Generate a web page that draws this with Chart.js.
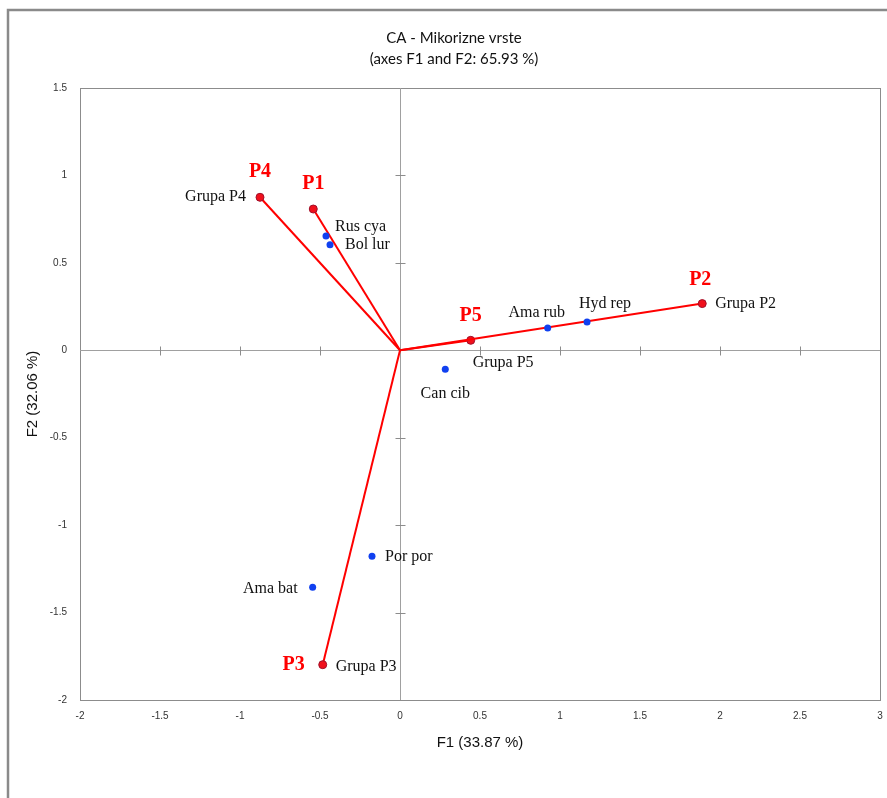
<!DOCTYPE html>
<html>
<head>
<meta charset="utf-8">
<script src="https://cdn.jsdelivr.net/npm/chart.js@4/dist/chart.umd.min.js"></script>
<style>
  html, body { margin: 0; padding: 0; background: #fff; overflow: hidden; }
  #wrap { position: relative; width: 887px; height: 798px; }
</style>
</head>
<body>
<div id="wrap"><canvas id="c" width="887" height="798"></canvas></div>
<script>
// Correspondence analysis: mycorrhizal species and site groups on F1 / F2
const groupNames  = ['P1', 'P2', 'P3', 'P4', 'P5'];
const groupLabels = ['', 'Grupa P2', 'Grupa P3', 'Grupa P4', 'Grupa P5'];
const groupF1     = [-0.542, 1.889, -0.483, -0.875, 0.442];
const groupF2     = [0.808, 0.267, -1.798, 0.875, 0.057];

const speciesNames = ['Rus cya', 'Bol lur', 'Ama rub', 'Hyd rep', 'Can cib', 'Por por', 'Ama bat'];
const speciesF1    = [-0.4625, -0.4375, 0.923, 1.169, 0.283, -0.175, -0.546];
const speciesF2    = [0.654, 0.604, 0.1275, 0.162, -0.109, -1.178, -1.355];

const xTicks = [-2, -1.5, -1, -0.5, 0, 0.5, 1, 1.5, 2, 2.5, 3];
const yTicks = [-2, -1.5, -1, -0.5, 0, 0.5, 1, 1.5];

const titleLines = ['CA - Mikorizne vrste', '(axes F1 and F2: 65.93 %)'];
const xTitle = 'F1 (33.87 %)';
const yTitle = 'F2 (32.06 %)';

// label placement (pixel offsets from the marker, text alignment)
const groupTagPlace = [
  { dx: 0, dy: -25, align: 'center' },
  { dx: -2, dy: -24, align: 'center' },
  { dx: -18, dy: 0, align: 'right' },
  { dx: 0, dy: -25, align: 'center' },
  { dx: 0, dy: -24, align: 'center' }
];
const groupLabelPlace = [
  null,
  { dx: 13, dy: 0, align: 'left' },
  { dx: 13, dy: 2, align: 'left' },
  { dx: -14, dy: 0, align: 'right' },
  { dx: 2, dy: 22, align: 'left' }
];
const speciesPlace = [
  { dx: 9, dy: -9, align: 'left' },
  { dx: 15, dy: 0, align: 'left' },
  { dx: -11, dy: -15, align: 'center' },
  { dx: 18, dy: -18, align: 'center' },
  { dx: 0, dy: 24, align: 'center' },
  { dx: 13, dy: 1, align: 'left' },
  { dx: -15, dy: 2, align: 'right' }
];

const RED = '#ff0000';
const BLUE = '#1040f0';
const AXIS_GRAY = '#8c8c8c';
const SANS = '"Liberation Sans", Arial, sans-serif';
const SERIF = '"Liberation Serif", "Times New Roman", serif';

const datasets = [];
datasets.push({
  label: 'species',
  data: speciesF1.map((x, i) => ({ x, y: speciesF2[i] })),
  pointRadius: 3.5,
  pointBackgroundColor: BLUE,
  pointBorderColor: BLUE,
  pointBorderWidth: 0,
  showLine: false
});
groupNames.forEach((g, i) => {
  datasets.push({
    label: g,
    data: [{ x: 0, y: 0 }, { x: groupF1[i], y: groupF2[i] }],
    showLine: true,
    borderColor: RED,
    borderWidth: 2,
    pointRadius: [0, 4],
    pointBackgroundColor: '#f0101c',
    pointBorderColor: '#a0102a',
    pointBorderWidth: 1
  });
});

const frameAndAxes = {
  id: 'frameAndAxes',
  beforeDraw(chart) {
    const ctx = chart.ctx;
    ctx.save();
    ctx.fillStyle = '#fff';
    ctx.fillRect(0, 0, chart.width, chart.height);
    ctx.strokeStyle = '#8a8a8a';
    ctx.lineWidth = 2.5;
    ctx.beginPath();
    ctx.moveTo(8, chart.height + 2);
    ctx.lineTo(8, 10);
    ctx.lineTo(chart.width + 2, 10);
    ctx.stroke();
    // chart title
    ctx.fillStyle = '#111';
    ctx.font = '15px Lato, "Liberation Sans", sans-serif';
    ctx.textAlign = 'center';
    ctx.textBaseline = 'middle';
    ctx.fillText(titleLines[0], 454, 38);
    ctx.fillText(titleLines[1], 454, 59);
    ctx.restore();
  },
  beforeDatasetsDraw(chart) {
    const { ctx, chartArea: a, scales: { x, y } } = chart;
    ctx.save();
    ctx.strokeStyle = AXIS_GRAY;
    ctx.lineWidth = 1;
    ctx.strokeRect(Math.round(a.left) + 0.5, Math.round(a.top) + 0.5,
                   Math.round(a.right - a.left), Math.round(a.bottom - a.top));
    const x0 = Math.round(x.getPixelForValue(0)) + 0.5;
    const y0 = Math.round(y.getPixelForValue(0)) + 0.5;
    ctx.strokeStyle = '#a0a0a0';
    ctx.beginPath();
    ctx.moveTo(x0, a.top); ctx.lineTo(x0, a.bottom);
    ctx.moveTo(a.left, y0); ctx.lineTo(a.right, y0);
    ctx.stroke();
    ctx.strokeStyle = AXIS_GRAY;
    ctx.beginPath();
    xTicks.forEach(v => {
      if (v === xTicks[0] || v === xTicks[xTicks.length - 1] || v === 0) return;
      const px = Math.round(x.getPixelForValue(v)) + 0.5;
      ctx.moveTo(px, y0 - 4); ctx.lineTo(px, y0 + 5);
    });
    yTicks.forEach(v => {
      if (v === yTicks[0] || v === yTicks[yTicks.length - 1] || v === 0) return;
      const py = Math.round(y.getPixelForValue(v)) + 0.5;
      ctx.moveTo(x0 - 5, py); ctx.lineTo(x0 + 5, py);
    });
    ctx.stroke();
    ctx.restore();
  },
  afterDatasetsDraw(chart) {
    const { ctx, scales: { x, y } } = chart;
    ctx.save();
    ctx.textBaseline = 'middle';
    // species names
    ctx.fillStyle = '#111';
    ctx.font = '16px ' + SERIF;
    speciesNames.forEach((n, i) => {
      const p = speciesPlace[i];
      ctx.textAlign = p.align;
      ctx.fillText(n, x.getPixelForValue(speciesF1[i]) + p.dx, y.getPixelForValue(speciesF2[i]) + p.dy);
    });
    // group labels
    groupLabels.forEach((n, i) => {
      const p = groupLabelPlace[i];
      if (!n || !p) return;
      ctx.textAlign = p.align;
      ctx.fillText(n, x.getPixelForValue(groupF1[i]) + p.dx, y.getPixelForValue(groupF2[i]) + p.dy);
    });
    // group tags
    ctx.fillStyle = RED;
    ctx.font = 'bold 20px ' + SERIF;
    groupNames.forEach((n, i) => {
      const p = groupTagPlace[i];
      ctx.textAlign = p.align;
      ctx.fillText(n, x.getPixelForValue(groupF1[i]) + p.dx, y.getPixelForValue(groupF2[i]) + p.dy);
    });
    ctx.restore();
  }
};

const tickText = v => String(Math.round(v * 100) / 100);

new Chart(document.getElementById('c'), {
  type: 'scatter',
  data: { datasets },
  options: {
    responsive: false,
    animation: false,
    devicePixelRatio: 1,
    layout: { padding: { top: 88, right: 7, bottom: 0, left: 0 } },
    plugins: { legend: { display: false }, tooltip: { enabled: false }, title: { display: false } },
    scales: {
      x: {
        type: 'linear', min: -2, max: 3,
        grid: { display: false, drawTicks: false },
        border: { display: false },
        afterBuildTicks: s => { s.ticks = xTicks.map(v => ({ value: v })); },
        afterFit: s => { s.height = 98; s.paddingLeft = 0; s.paddingRight = 0; },
        ticks: { padding: 10, autoSkip: false, maxRotation: 0, color: '#333', font: { family: SANS, size: 10 }, callback: tickText },
        title: { display: true, text: xTitle, color: '#111', font: { family: SANS, size: 15 }, padding: { top: 0, bottom: 46 } }
      },
      y: {
        type: 'linear', min: -2, max: 1.5,
        grid: { display: false, drawTicks: false },
        border: { display: false },
        afterBuildTicks: s => { s.ticks = yTicks.map(v => ({ value: v })); },
        afterFit: s => { s.width = 80; s.paddingTop = 0; s.paddingBottom = 0; },
        ticks: { padding: 13, autoSkip: false, color: '#333', font: { family: SANS, size: 10 }, callback: tickText },
        title: { display: true, text: yTitle, color: '#111', font: { family: SANS, size: 15 }, padding: { top: 24, bottom: 0 } }
      }
    }
  },
  plugins: [frameAndAxes]
});
</script>
</body>
</html>
